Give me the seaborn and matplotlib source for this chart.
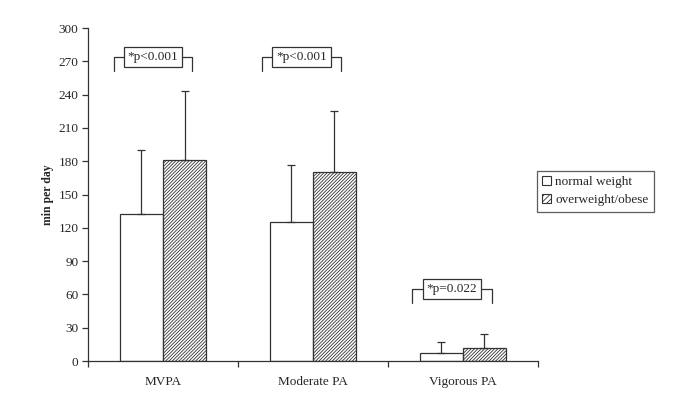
import pandas as pd
import matplotlib.pyplot as plt
import seaborn as sns
import numpy as np

# values
activities = ['MVPA', 'Moderate PA', 'Vigorous PA']
groups = ['normal weight', 'overweight/obese']
normal_mean = [132, 125, 7]
normal_sd = [58, 52, 10]
over_mean = [181, 170, 12]
over_sd = [62, 55, 12]
p_labels = ['*p<0.001', '*p<0.001', '*p=0.022']
yticks = [0, 30, 60, 90, 120, 150, 180, 210, 240, 270, 300]

df = pd.DataFrame({
    'activity': activities * 2,
    'group': [groups[0]] * 3 + [groups[1]] * 3,
    'value': normal_mean + over_mean,
    'sd': normal_sd + over_sd,
})

sns.set_style('white')
plt.rcParams['font.family'] = ['Liberation Serif', 'DejaVu Serif']
plt.rcParams['hatch.linewidth'] = 0.6

fig = plt.figure(figsize=(6.85, 4.03), dpi=100)
ax = fig.add_axes([0.1285, 0.1042, 0.6565, 0.8263])

sns.barplot(data=df, x='activity', y='value', hue='group', ax=ax,
            palette=['white', 'white'], width=0.575, gap=0,
            edgecolor='#333333', linewidth=0.9, errorbar=None, legend=False)

for p in ax.containers[1]:
    p.set_hatch('//////////')

# one-sided error bars
for cont, sds in zip(ax.containers, [normal_sd, over_sd]):
    xs = [p.get_x() + p.get_width() / 2 for p in cont]
    hs = [p.get_height() for p in cont]
    ax.errorbar(xs, hs, yerr=[np.zeros(len(sds)), sds], fmt='none',
                ecolor='#333333', elinewidth=0.9, capsize=3, capthick=0.9)

# significance brackets
brackets = [(-0.327, 0.193, 274, 261.5), (0.663, 1.187, 274, 261.5), (1.663, 2.193, 65, 52)]
for (x0, x1, yh, yb), lab in zip(brackets, p_labels):
    ax.plot([x0, x0, x1, x1], [yb, yh, yh, yb], color='#333333', lw=0.9, clip_on=False)
    ax.text((x0 + x1) / 2, yh, lab, ha='center', va='center', fontsize=9.5,
            bbox=dict(boxstyle='square,pad=0.3', fc='white', ec='#333333', lw=0.9))

ax.set_ylim(0, 300)
ax.set_xlim(-0.5, 2.5)
ax.set_yticks(yticks)
ax.set_xticks([-0.5, 0.5, 1.5, 2.5], minor=True)
ax.tick_params(axis='x', which='major', length=0, pad=11, labelsize=9.5)
ax.tick_params(axis='x', which='minor', length=4, direction='out', width=0.9, color='#333333', bottom=True)
ax.tick_params(axis='y', length=4, direction='out', width=0.9, color='#333333', labelsize=9.5, left=True, pad=3)
ax.set_xlabel('')
ax.set_ylabel('min per day', fontsize=8.5, fontweight='bold', labelpad=3)
sns.despine(ax=ax)
for s in ['left', 'bottom']:
    ax.spines[s].set_color('#333333')
    ax.spines[s].set_linewidth(0.9)

handles = [plt.Rectangle((0, 0), 1, 1, fc='white', ec='#333333', lw=0.8),
           plt.Rectangle((0, 0), 1, 1, fc='white', ec='#333333', lw=0.8, hatch='//////')]
leg = fig.legend(handles, groups, loc='upper left', bbox_to_anchor=(0.774, 0.593),
                 fontsize=9.5, frameon=True, fancybox=False, edgecolor='#333333',
                 handlelength=0.7, handleheight=0.7, handletextpad=0.3,
                 borderpad=0.4, labelspacing=0.45)
leg.get_frame().set_linewidth(0.9)

fig.savefig('out.png', dpi=100)
